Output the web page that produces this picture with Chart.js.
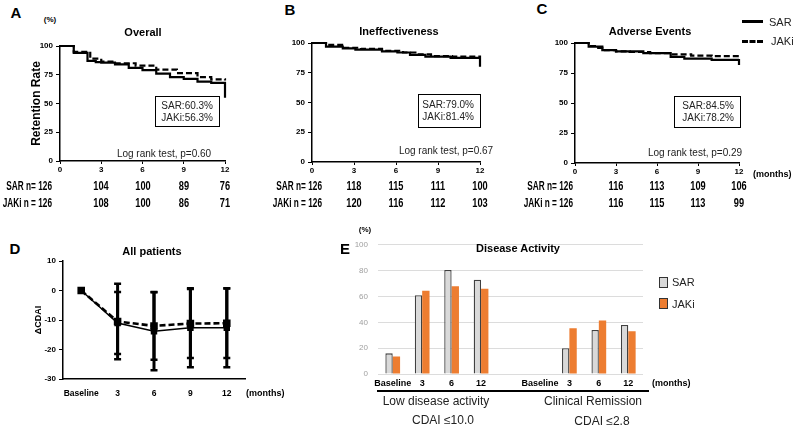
<!DOCTYPE html>
<html>
<head>
<meta charset="utf-8">
<script src="https://cdn.jsdelivr.net/npm/chart.js@4.4.0/dist/chart.umd.min.js"></script>
<style>
    body { margin: 0; width: 794px; height: 426px; position: relative; overflow: hidden; background: #fff;
           font-family: "Liberation Sans", Arial, sans-serif; color: #000; }
    canvas { position: absolute; }
    .t { position: absolute; white-space: nowrap; line-height: 1; color: #000; }
    .letter { font-size: 15px; font-weight: bold; }
    .title { font-size: 11px; font-weight: bold; }
    .small { font-size: 8px; font-weight: bold; }
    .risk { font-size: 12.5px; font-weight: bold; }
    .note { font-size: 10px; color: #222; }
    .cap { font-size: 12px; color: #222; }
    .leg { font-size: 11px; color: #222; }
</style>
</head>
<body>
<canvas id="kmA"></canvas>
<canvas id="kmB"></canvas>
<canvas id="kmC"></canvas>
<canvas id="cdai"></canvas>
<canvas id="activity"></canvas>
<script>
// ---- data ----
const months = [0, 3, 6, 9, 12];

// Kaplan-Meier steps: time (months) and retention (%)
const sarA_t = [0, 1, 2, 2.6, 3, 4, 5, 6, 7, 8, 9, 10, 11, 12, 12];
const sarA_s = [100, 94, 87, 86, 85.5, 84, 81, 79, 76, 73, 71.5, 69, 68, 67, 55];
const jakA_t = [0, 1, 2.2, 3, 4, 5.5, 7, 8.5, 10, 11, 12];
const jakA_s = [100, 95, 89, 86.5, 85, 83, 79.5, 76.5, 73, 71, 70];

const sarB_t = [0, 1, 2.2, 3.1, 5, 6.1, 7, 8.1, 9.9, 12, 12];
const sarB_s = [100, 97, 95.5, 94.5, 93, 92, 90, 88.5, 87.5, 87, 80];
const jakB_t = [0, 1, 2.3, 3.5, 5, 6.5, 7.5, 8.5, 10, 12];
const jakB_s = [100, 98.5, 96, 95, 93.5, 92, 90.5, 89, 88.5, 88];

const sarC_t = [0, 1, 2, 3, 5, 7, 8, 10, 12];
const sarC_s = [100, 97, 94, 93, 91.5, 88.5, 87, 86, 86];
const jakC_t = [0, 1, 1.7, 2, 3, 4, 5.5, 7, 8.5, 10, 12, 12];
const jakC_s = [100, 97.5, 96, 94, 93, 92.5, 91.5, 90.5, 89.5, 89, 88.5, 80];

// numbers at risk at 0, 3, 6, 9, 12 months
const sarN_A = [126, 104, 100, 89, 76];
const jakN_A = [126, 108, 100, 86, 71];
const sarN_B = [126, 118, 115, 111, 100];
const jakN_B = [126, 120, 116, 112, 103];
const sarN_C = [126, 116, 113, 109, 106];
const jakN_C = [126, 116, 115, 113, 99];

// delta CDAI, mean and SD
const cdaiLabels = ["Baseline", "3", "6", "9", "12"];
const sarCdai = [0, -11, -13.8, -12.6, -12.6];
const sarCdaiSd = [0, 10.5, 13.2, 13.4, 13.4];
const jakCdai = [0, -10.5, -12, -11.2, -11.1];
const jakCdaiSd = [0, 12.8, 11.5, 11.7, 11.8];

// disease activity (%)
const actLabels = ["Baseline", "3", "6", "12", "", "Baseline", "3", "6", "12"];
const sarAct = [16, 61, 80.5, 73, null, 0, 20, 34, 38];
const jakAct = [13.5, 64.5, 68, 66, null, 0, 35.5, 41.5, 33];

Chart.defaults.font.family = '"Liberation Sans", Arial, sans-serif';
Chart.defaults.color = "#000";

function text(str, x, y, cls, align, squeeze) {
    const d = document.createElement("div");
    d.className = "t " + (cls || "");
    d.textContent = str;
    d.style.left = x + "px";
    d.style.top = y + "px";
    const tx = align === "left" ? "0" : align === "right" ? "-100%" : "-50%";
    let tf = `translate(${tx},-50%)`;
    if (squeeze) {
        tf += ` scaleX(${squeeze})`;
        d.style.transformOrigin = (align === "left" ? "0%" : align === "right" ? "100%" : "50%") + " 50%";
    }
    d.style.transform = tf;
    document.body.appendChild(d);
    return d;
}

function rect(x, y, w, h, css) {
    const d = document.createElement("div");
    d.style.position = "absolute";
    d.style.left = x + "px";
    d.style.top = y + "px";
    d.style.width = w + "px";
    d.style.height = h + "px";
    Object.assign(d.style, css || {});
    document.body.appendChild(d);
    return d;
}

function setup(id, box, area) {
    const canvas = document.getElementById(id);
    canvas.width = box.w;
    canvas.height = box.h;
    canvas.style.left = box.x + "px";
    canvas.style.top = box.y + "px";
    return {
        canvas,
        padding: { top: area.t - box.y, right: box.x + box.w - area.r, left: 0, bottom: 0 },
        yw: area.l - box.x,
        xh: box.y + box.h - area.b,
    };
}

function steps(t, s) {
    return t.map((v, i) => ({ x: v, y: s[i] }));
}

const tickFont = { size: 8, weight: "bold" };

function kmChart(id, box, area, sar, jak, sarN, jakN, rowRight, yTitle) {
    const c = setup(id, box, area);
    const chart = new Chart(c.canvas, {
        type: "line",
        data: {
            datasets: [
                { label: "SAR", data: sar, borderColor: "#000", borderWidth: 2.2, stepped: true, pointRadius: 0, clip: 6 },
                { label: "JAKi", data: jak, borderColor: "#000", borderWidth: 2.2, borderDash: [6, 3], stepped: true, pointRadius: 0, clip: 6 },
            ],
        },
        options: {
            responsive: false,
            animation: false,
            layout: { padding: c.padding },
            plugins: { legend: { display: false }, tooltip: { enabled: false } },
            scales: {
                x: {
                    type: "linear", min: 0, max: 12,
                    ticks: { stepSize: 3, font: tickFont, padding: 1, maxRotation: 0 },
                    grid: { drawOnChartArea: false, tickLength: 3, color: "#000" },
                    border: { color: "#000", width: 1.5 },
                    afterFit: (s) => { s.height = c.xh; },
                },
                y: {
                    min: 0, max: 100,
                    ticks: { stepSize: 25, font: tickFont, padding: 3 },
                    grid: { drawOnChartArea: false, tickLength: 4, color: "#000" },
                    border: { color: "#000", width: 1.5 },
                    title: { display: !!yTitle, text: yTitle || "", font: { size: 12, weight: "bold" }, padding: 0 },
                    afterFit: (s) => { s.width = c.yw; },
                },
            },
        },
    });
    const xs = chart.scales.x;
    text("SAR  n= " + sarN[0], rowRight, 186, "risk", "right", 0.66);
    text("JAKi n = " + jakN[0], rowRight, 203, "risk", "right", 0.66);
    months.slice(1).forEach((m, i) => {
        const px = box.x + xs.getPixelForValue(m);
        text(String(sarN[i + 1]), px, 186, "risk", "center", 0.74);
        text(String(jakN[i + 1]), px, 203, "risk", "center", 0.74);
    });
    return chart;
}

kmChart("kmA", { x: 29, y: 36, w: 204, h: 145 }, { l: 60, t: 46, r: 225, b: 161 },
    steps(sarA_t, sarA_s), steps(jakA_t, jakA_s), sarN_A, jakN_A, 52, "Retention Rate");
kmChart("kmB", { x: 280, y: 33, w: 210, h: 149 }, { l: 312, t: 43, r: 480, b: 162 },
    steps(sarB_t, sarB_s), steps(jakB_t, jakB_s), sarN_B, jakN_B, 322);
kmChart("kmC", { x: 545, y: 33, w: 205, h: 150 }, { l: 575, t: 43, r: 739, b: 163 },
    steps(sarC_t, sarC_s), steps(jakC_t, jakC_s), sarN_C, jakN_C, 573);

// panel labels and titles for the survival curves
text("A", 16, 12, "letter");
text("B", 290, 9, "letter");
text("C", 542, 8, "letter");
text("(%)", 50, 20, "small");
text("Overall", 143, 32, "title");
text("Ineffectiveness", 399, 31, "title");
text("Adverse Events", 650, 31, "title");
text("(months)", 753, 174, "small", "left").style.fontSize = "9px";

const kmBoxes = [
    [155, 96, 65, 31, "SAR:60.3%", "JAKi:56.3%", 164, 154, "Log rank test, p=0.60"],
    [418, 94, 63, 34, "SAR:79.0%", "JAKi:81.4%", 446, 151, "Log rank test, p=0.67"],
    [674, 96, 67, 32, "SAR:84.5%", "JAKi:78.2%", 695, 153, "Log rank test, p=0.29"],
];
kmBoxes.forEach(([x, y, w, h, l1, l2, lx, ly, lr]) => {
    rect(x, y, w, h, { border: "1px solid #000", boxSizing: "border-box" });
    text(l1, x + w - 7, y + h / 2 - 6, "note", "right");
    text(l2, x + w - 7, y + h / 2 + 6, "note", "right");
    text(lr, lx, ly, "note");
});

// line legend (top right)
rect(742, 20, 21, 3, { background: "#000" });
rect(742, 40, 21, 0, { borderTop: "3px dashed #000" });
text("SAR", 769, 22, "leg", "left");
text("JAKi", 771, 41, "leg", "left");

// ---- D: delta CDAI ----
const errorBars = {
    id: "errorBars",
    afterDatasetsDraw(chart) {
        const { ctx, scales: { y } } = chart;
        chart.data.datasets.forEach((ds, i) => {
            const meta = chart.getDatasetMeta(i);
            ctx.save();
            ctx.strokeStyle = "#000";
            meta.data.forEach((pt, j) => {
                const sd = ds.sd[j];
                if (!sd) return;
                const top = y.getPixelForValue(ds.data[j] + sd);
                const bot = y.getPixelForValue(ds.data[j] - sd);
                ctx.lineWidth = 3;
                ctx.beginPath();
                ctx.moveTo(pt.x, top);
                ctx.lineTo(pt.x, bot);
                ctx.stroke();
                ctx.lineWidth = 2.5;
                ctx.beginPath();
                ctx.moveTo(pt.x - 3.5, top);
                ctx.lineTo(pt.x + 3.5, top);
                ctx.moveTo(pt.x - 3.5, bot);
                ctx.lineTo(pt.x + 3.5, bot);
                ctx.stroke();
            });
            ctx.restore();
        });
    },
};

const dBox = { x: 33, y: 250, w: 226, h: 150 };
const dc = setup("cdai", dBox, { l: 63, t: 261, r: 245, b: 379 });
new Chart(dc.canvas, {
    type: "line",
    data: {
        labels: cdaiLabels,
        datasets: [
            { label: "SAR", data: sarCdai, sd: sarCdaiSd, borderColor: "#000", borderWidth: 1.5,
              pointStyle: "rect", pointRadius: 3.5, pointBackgroundColor: "#000", pointBorderColor: "#000" },
            { label: "JAKi", data: jakCdai, sd: jakCdaiSd, borderColor: "#000", borderWidth: 2.6, borderDash: [6, 3],
              pointStyle: "rect", pointRadius: 3.5, pointBackgroundColor: "#000", pointBorderColor: "#000" },
        ],
    },
    options: {
        responsive: false,
        animation: false,
        layout: { padding: dc.padding },
        plugins: { legend: { display: false }, tooltip: { enabled: false } },
        scales: {
            x: {
                offset: true,
                ticks: { font: { size: 8.5, weight: "bold" }, padding: 10, autoSkip: false, maxRotation: 0 },
                grid: { drawOnChartArea: false, drawTicks: false },
                border: { color: "#000", width: 1.5 },
                afterFit: (s) => { s.height = dc.xh; },
            },
            y: {
                min: -30, max: 10,
                ticks: { stepSize: 10, font: tickFont, padding: 3 },
                grid: { drawOnChartArea: false, tickLength: 4, color: "#000" },
                border: { color: "#000", width: 1.5 },
                title: { display: true, text: "ΔCDAI", font: { size: 9, weight: "bold" }, padding: 0 },
                afterFit: (s) => { s.width = dc.yw; },
            },
        },
    },
    plugins: [errorBars],
});
text("D", 15, 248, "letter");
text("All patients", 152, 251, "title");
text("(months)", 246, 393, "small", "left").style.fontSize = "9px";

// ---- E: disease activity ----
const eBox = { x: 340, y: 230, w: 320, h: 170 };
const ec = setup("activity", eBox, { l: 378, t: 242, r: 643, b: 374 });
new Chart(ec.canvas, {
    type: "bar",
    data: {
        labels: actLabels,
        datasets: [
            { label: "SAR", data: sarAct, backgroundColor: "#d9d9d9", borderColor: "#404040", borderWidth: 1.3 },
            { label: "JAKi", data: jakAct, backgroundColor: "#ED7D31", borderWidth: 0 },
        ],
    },
    options: {
        responsive: false,
        animation: false,
        layout: { padding: ec.padding },
        categoryPercentage: 0.5,
        barPercentage: 1,
        plugins: { legend: { display: false }, tooltip: { enabled: false } },
        scales: {
            x: {
                ticks: { font: { size: 9, weight: "bold" }, padding: 4, autoSkip: false, maxRotation: 0 },
                grid: { display: false, drawTicks: false },
                border: { display: false },
                afterFit: (s) => { s.height = ec.xh; },
            },
            y: {
                min: 0, max: 100,
                ticks: { stepSize: 20, font: { size: 8 }, color: "#a0a0a0", padding: 10 },
                grid: { color: "#dcdcdc", drawTicks: false },
                border: { display: false },
                afterFit: (s) => { s.width = ec.yw; },
            },
        },
    },
});
text("E", 345, 248, "letter");
text("(%)", 365, 230, "small");
text("Disease Activity", 518, 248, "title");
text("(months)", 652, 383, "small", "left").style.fontSize = "9px";
rect(377, 390, 272, 2, { background: "#000" });
text("Low disease activity", 436, 401, "cap");
text("CDAI ≤10.0", 443, 420, "cap");
text("Clinical Remission", 593, 401, "cap");
text("CDAI ≤2.8", 602, 421, "cap");
rect(659, 277, 9, 11, { background: "#d9d9d9", border: "1.3px solid #333", boxSizing: "border-box" });
rect(659, 298, 9, 11, { background: "#ED7D31", border: "1.3px solid #333", boxSizing: "border-box" });
text("SAR", 672, 282, "leg", "left");
text("JAKi", 672, 304, "leg", "left");
</script>
</body>
</html>
